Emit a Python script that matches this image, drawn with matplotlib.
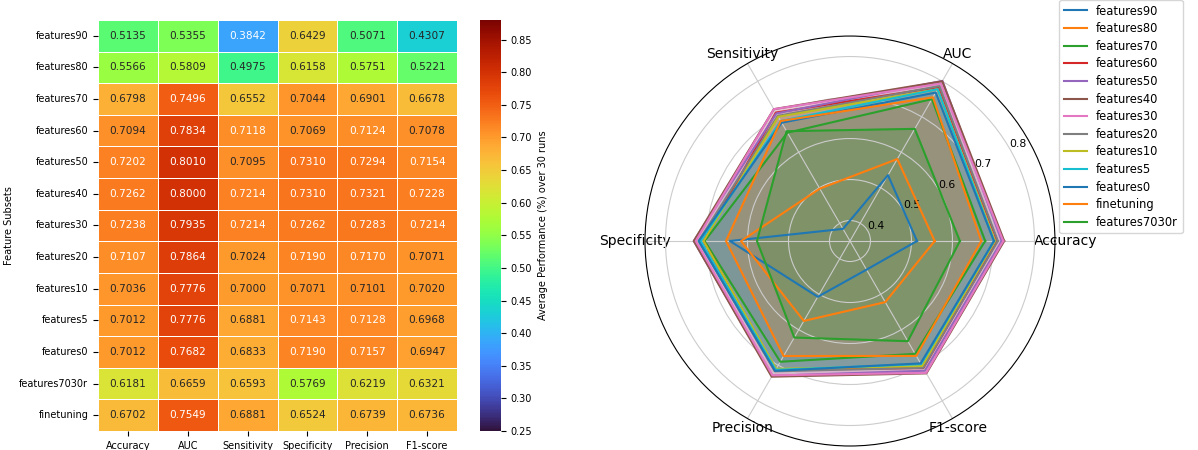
import numpy as np
import pandas as pd
import matplotlib
matplotlib.use("Agg")
import matplotlib.pyplot as plt
import seaborn as sns

# ── data (average over 30 runs) ───────────────────────────────────────────────
subsets = ["features90", "features80", "features70", "features60", "features50",
           "features40", "features30", "features20", "features10", "features5",
           "features0", "features7030r", "finetuning"]
metrics = ["Accuracy", "AUC", "Sensitivity", "Specificity", "Precision", "F1-score"]

accuracy    = [0.5135, 0.5566, 0.6798, 0.7094, 0.7202, 0.7262, 0.7238, 0.7107, 0.7036, 0.7012, 0.7012, 0.6181, 0.6702]
auc         = [0.5355, 0.5809, 0.7496, 0.7834, 0.8010, 0.8000, 0.7935, 0.7864, 0.7776, 0.7776, 0.7682, 0.6659, 0.7549]
sensitivity = [0.3842, 0.4975, 0.6552, 0.7118, 0.7095, 0.7214, 0.7214, 0.7024, 0.7000, 0.6881, 0.6833, 0.6593, 0.6881]
specificity = [0.6429, 0.6158, 0.7044, 0.7069, 0.7310, 0.7310, 0.7262, 0.7190, 0.7071, 0.7143, 0.7190, 0.5769, 0.6524]
precision   = [0.5071, 0.5751, 0.6901, 0.7124, 0.7294, 0.7321, 0.7283, 0.7170, 0.7101, 0.7128, 0.7157, 0.6219, 0.6739]
f1_score    = [0.4307, 0.5221, 0.6678, 0.7078, 0.7154, 0.7228, 0.7214, 0.7071, 0.7020, 0.6968, 0.6947, 0.6321, 0.6736]

# order of the radar legend
radar_order = ["features90", "features80", "features70", "features60", "features50",
               "features40", "features30", "features20", "features10", "features5",
               "features0", "finetuning", "features7030r"]

df = pd.DataFrame({"Accuracy": accuracy, "AUC": auc, "Sensitivity": sensitivity,
                   "Specificity": specificity, "Precision": precision,
                   "F1-score": f1_score}, index=subsets)

fig = plt.figure(figsize=(11.98, 4.5), dpi=100)

# ── heatmap ───────────────────────────────────────────────────────────────────
ax_hm = fig.add_axes([0.0818, 0.0422, 0.2997, 0.9134])
ax_cb = fig.add_axes([0.4007, 0.0422, 0.0175, 0.9134])
sns.heatmap(df, ax=ax_hm, cbar_ax=ax_cb, cmap="turbo", vmin=0.25, vmax=0.88,
            annot=True, fmt=".4f", annot_kws={"fontsize": 7.6},
            linewidths=0.5, linecolor="white")
ax_hm.set_ylabel("Feature Subsets", fontsize=7)
ax_hm.tick_params(axis="both", labelsize=7)
ax_hm.set_yticklabels(ax_hm.get_yticklabels(), rotation=0)
ax_hm.set_xticklabels(ax_hm.get_xticklabels(), rotation=0)
ax_cb.tick_params(labelsize=7)
ax_cb.set_ylabel("Average Performance (%) over 30 runs", fontsize=7)
ax_cb.set_yticks(np.arange(0.25, 0.86, 0.05))

# ── radar ─────────────────────────────────────────────────────────────────────
angles = np.linspace(0, 2 * np.pi, len(metrics), endpoint=False)
ang_closed = np.concatenate([angles, angles[:1]])

ax_r = fig.add_axes([0.5384, 0.0089, 0.3422, 0.911], projection="polar")
for name in radar_order:
    vals = df.loc[name, metrics].values.astype(float)
    vals = np.concatenate([vals, vals[:1]])
    line, = ax_r.plot(ang_closed, vals, lw=1.5, label=name)
    ax_r.fill(ang_closed, vals, color=line.get_color(), alpha=0.2)

ax_r.set_xticks(angles)
ax_r.set_xticklabels(metrics, fontsize=10)
ax_r.tick_params(axis="x", pad=-3)
ax_r.set_ylim(0.35, 0.85)
ax_r.set_yticks([0.4, 0.5, 0.6, 0.7, 0.8])
ax_r.set_yticklabels(["0.4", "0.5", "0.6", "0.7", "0.8"], fontsize=7.8)
ax_r.set_rlabel_position(30)
ax_r.grid(color="#cccccc", lw=0.8)
ax_r.legend(loc="upper right", bbox_to_anchor=(0.992, 1.013),
            bbox_transform=fig.transFigure, fontsize=8.3, labelspacing=0.4,
            framealpha=0.8)

fig.savefig("out.png", dpi=100)
